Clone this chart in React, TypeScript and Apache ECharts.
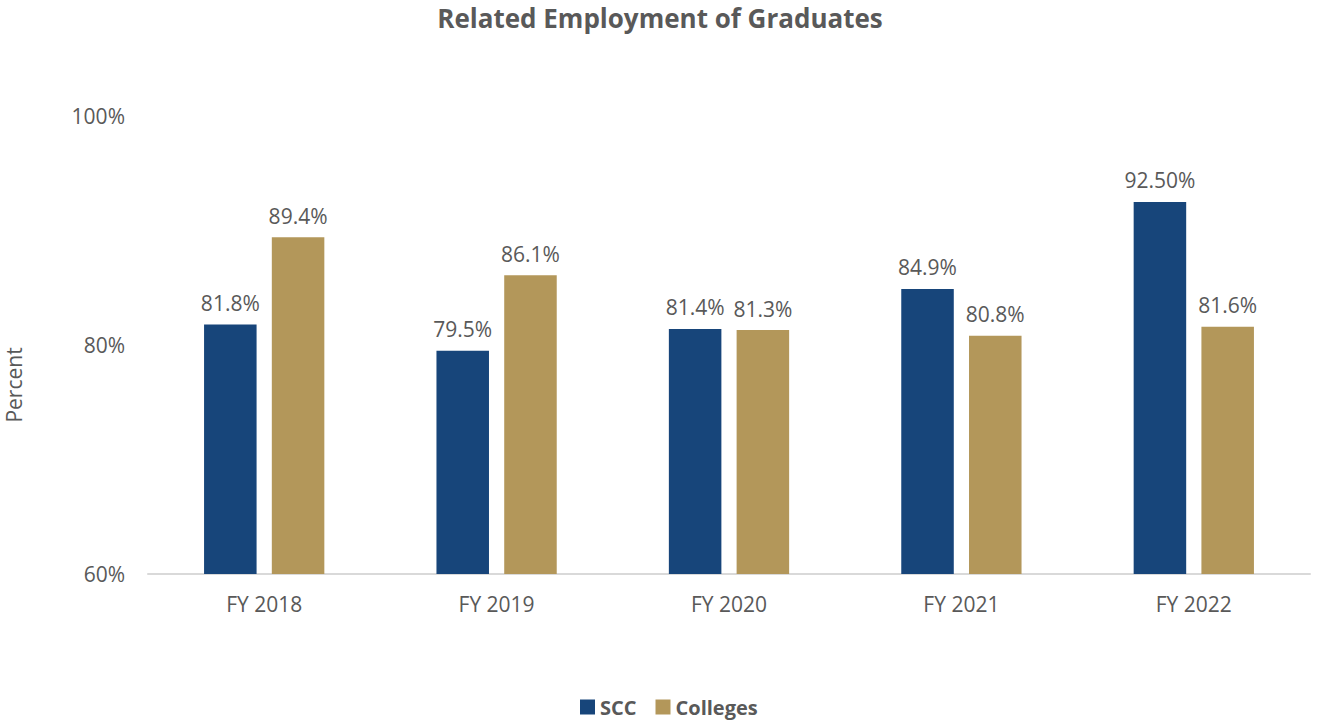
import React, { useEffect, useRef } from "react";
import * as echarts from "echarts";

const categories = ["FY 2018", "FY 2019", "FY 2020", "FY 2021", "FY 2022"];
const sccValues = [81.8, 79.5, 81.4, 84.9, 92.5];
const sccDecimals = [1, 1, 1, 1, 2];
const collegesValues = [89.4, 86.1, 81.3, 80.8, 81.6];
const collegesDecimals = [1, 1, 1, 1, 1];
const yTicks = [60, 80, 100];

const FONT = "Open Sans, Noto Sans, sans-serif";
const TEXT = "#595959";

export default function App() {
  const ref = useRef<HTMLDivElement>(null);
  useEffect(() => {
    if (!ref.current) return;
    const chart = echarts.init(ref.current, null, { renderer: "svg" });
    chart.setOption({
      animation: false,
      backgroundColor: "#ffffff",
      title: {
        text: "Related Employment of Graduates",
        left: "center",
        top: 0,
        textStyle: { fontFamily: FONT, fontSize: 26, fontWeight: "bold", color: TEXT },
      },
      grid: { left: 148, right: 10, top: 116, bottom: 149 },
      legend: {
        bottom: 1,
        left: 575,
        itemWidth: 15,
        itemHeight: 15,
        itemGap: 19,
        icon: "rect",
        textStyle: { fontFamily: FONT, fontSize: 20, fontWeight: "bold", color: TEXT },
        data: ["SCC", "Colleges"],
      },
      graphic: [
        {
          type: "text",
          x: 3,
          y: 385,
          rotation: Math.PI / 2,
          style: {
            text: "Percent",
            fontFamily: FONT,
            fontSize: 21,
            fill: TEXT,
            textAlign: "center",
            textVerticalAlign: "top",
          },
        },
      ],
      xAxis: {
        type: "category",
        data: categories,
        axisLine: { lineStyle: { color: "#D9D9D9", width: 2 } },
        axisTick: { show: false },
        axisLabel: { fontFamily: FONT, fontSize: 21, color: TEXT, margin: 19 },
      },
      yAxis: {
        type: "value",
        min: yTicks[0],
        max: yTicks[yTicks.length - 1],
        interval: 20,
        splitLine: { show: false },
        axisLine: { show: false },
        axisTick: { show: false },
        axisLabel: {
          fontFamily: FONT,
          fontSize: 21,
          color: TEXT,
          margin: 23,
          formatter: (v: number) => `${v}%`,
        },
      },
      series: [
        {
          name: "SCC",
          type: "bar",
          data: sccValues,
          barWidth: "22.6%",
          barGap: "29%",
          itemStyle: { color: "#17457A" },
          label: {
            show: true,
            position: "top",
            distance: 11,
            fontFamily: FONT,
            fontSize: 21,
            color: TEXT,
            formatter: (p: any) => `${sccValues[p.dataIndex].toFixed(sccDecimals[p.dataIndex])}%`,
          },
        },
        {
          name: "Colleges",
          type: "bar",
          data: collegesValues,
          barWidth: "22.6%",
          itemStyle: { color: "#B3975A" },
          label: {
            show: true,
            position: "top",
            distance: 11,
            fontFamily: FONT,
            fontSize: 21,
            color: TEXT,
            formatter: (p: any) =>
              `${collegesValues[p.dataIndex].toFixed(collegesDecimals[p.dataIndex])}%`,
          },
        },
      ],
    });
    return () => chart.dispose();
  }, []);
  return <div ref={ref} style={{ width: 1320, height: 723, position: "absolute", left: 0, top: 0 }} />;
}
